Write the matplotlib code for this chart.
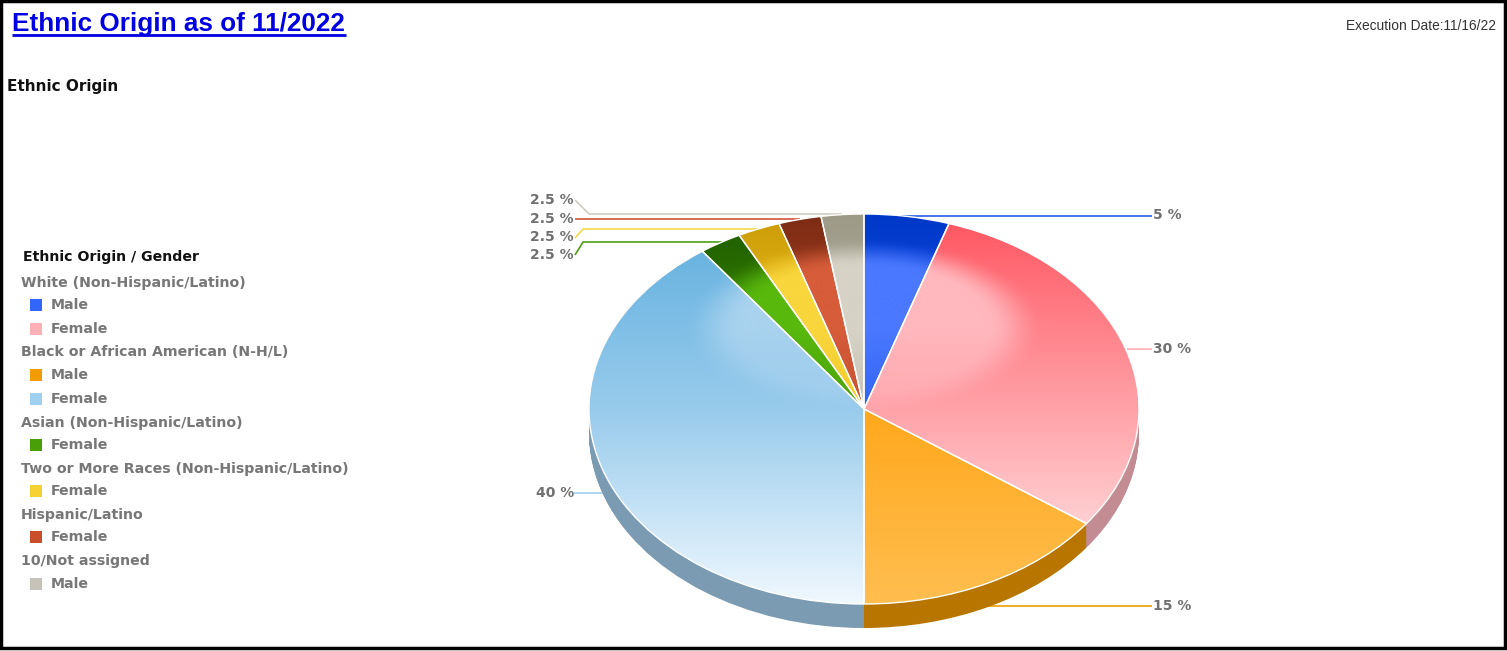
import numpy as np
import matplotlib
matplotlib.use("Agg")
import matplotlib.pyplot as plt
from matplotlib.patches import Rectangle

W, H = 1507, 651
values = [5, 30, 15, 40, 2.5, 2.5, 2.5, 2.5]
top_colors = ["#0038c8", "#ff5560", "#ffa30c", "#5eaede", "#1f5c00", "#cc9c08", "#7c2c14", "#9e9a88"]
mid_colors = ["#1c52f2", "#ffa2a8", "#ffa81c", "#98cbec", "#3f9200", "#f4c81c", "#bf4a28", "#bab6aa"]
low_colors = ["#1c52f2", "#fff0f0", "#ffbe50", "#f0f8fe", "#3f9200", "#f4c81c", "#bf4a28", "#bab6aa"]
glow_colors = ["#4a78ff", "#ffb8be", "#ffa81c", "#a8d2ee", "#58b80c", "#f8d63c", "#d65c3a", "#d6d2c6"]
side_colors = ["#2a4aa0", "#c28c92", "#b87600", "#7a9bb2", "#2a6000", "#a08418", "#802c14", "#8c8a7c"]
line_colors = ["#2a5de8", "#ffb0b4", "#eea000", "#a0d0ec", "#4d9e14", "#f6d84a", "#d0553a", "#cfccc0"]
label_text = [f"{v:g} %" for v in values]

legend_title = "Ethnic Origin / Gender"
legend_groups = ["White (Non-Hispanic/Latino)", "Black or African American (N-H/L)",
                 "Asian (Non-Hispanic/Latino)", "Two or More Races (Non-Hispanic/Latino)",
                 "Hispanic/Latino", "10/Not assigned"]
legend_items = [[("Male", "#3366ff"), ("Female", "#ffb0b6")],
                [("Male", "#f29c00"), ("Female", "#9fd0f0")],
                [("Female", "#4a9e08")],
                [("Female", "#f5d232")],
                [("Female", "#c84e2c")],
                [("Male", "#c6c4b8")]]

cx, cy, rx, ry, depth = 864, 409, 275, 195, 24

fig = plt.figure(figsize=(W / 100, H / 100), dpi=100, facecolor="white")
page = fig.add_axes([0, 0, 1, 1])
page.set_xlim(0, W); page.set_ylim(H, 0); page.axis("off")

# pie axes: unit coordinates map to the ellipse's bounding box, extended for the extrusion
pie = fig.add_axes([(cx - rx) / W, 1 - (cy + ry + depth) / H, 2 * rx / W, (2 * ry + depth) / H])
pie.set_zorder(2)
pie.patch.set_alpha(0)

pie_kw = dict(startangle=90, counterclock=False, radius=1)
dy = depth / ry
for off in np.linspace(dy, 0.005, 25):
    wedges, _ = pie.pie(values, colors=side_colors, center=(0, -off), frame=False, **pie_kw)
    for w in wedges:
        w.set_edgecolor("none")
top_wedges, _ = pie.pie(values, colors=["none"] * len(values), center=(0, 0), frame=False, **pie_kw)

pie.set_aspect("auto")
pie.set_xlim(-1, 1)
pie.set_ylim(-1 - dy, 1)
pie.axis("off")


def rgb(c):
    return np.array(matplotlib.colors.to_rgb(c))


ny, nx = 400, 560
xs = np.linspace(-1, 1, nx)
ys = np.linspace(1, -1, ny)
X, Y = np.meshgrid(xs, ys)
t = (1 - Y) / 2
# glossy cap: dark rim along the top that fades into the body colour
glow_d = np.sqrt((X / 0.6) ** 2 + ((Y - 0.42) / 0.42) ** 2)
glow = np.clip((1.1 - glow_d) / 0.36, 0, 1)
glow = glow * glow * (3 - 2 * glow)
fade = np.clip((0.72 - t) / 0.42, 0, 1)
for i, w in enumerate(top_wedges):
    top, mid, low, gl = map(rgb, (top_colors[i], mid_colors[i], low_colors[i], glow_colors[i]))
    u1 = np.clip(t / 0.5, 0, 1)[..., None]
    u2 = np.clip((t - 0.5) / 0.5, 0, 1)[..., None]
    upper = top * (1 - u1) + mid * u1
    base = np.where(t[..., None] < 0.5, upper, mid * (1 - u2) + low * u2)
    g = (glow * fade)[..., None]
    img = base * (1 - g) + gl * g
    im = pie.imshow(np.clip(img, 0, 1), extent=(-1, 1, -1, 1), aspect="auto", zorder=3,
                    interpolation="bilinear")
    w.set_facecolor("none")
    w.set_edgecolor("#ffffff")
    w.set_linewidth(1.0)
    w.set_zorder(4)
    im.set_clip_path(w)
pie.set_xlim(-1, 1)
pie.set_ylim(-1 - dy, 1)
pie.set_aspect("auto")

# leader lines and value labels, all in page pixels
leaders = [
    ([864, 1152], [216, 216], (1153, 215), "left"),
    ([1127, 1152], [349, 349], (1153, 349), "left"),
    ([985, 1152], [606, 606], (1153, 606), "left"),
    ([574, 604], [493, 493], (574, 493), "right"),
    ([575, 583, 590, 740], [255, 242, 242, 242], (574, 255), "right"),
    ([575, 583, 590, 770], [238, 229, 229, 229], (574, 237), "right"),
    ([575, 800], [219, 219], (574, 219), "right"),
    ([575, 589, 842], [200, 214, 214], (574, 200), "right"),
]
for i in range(len(values)):
    xl, yl, (tx, ty), ha = leaders[i]
    page.plot(xl, yl, color=line_colors[i], lw=1.2, solid_capstyle="butt", zorder=1)
    page.text(tx, ty, label_text[i], ha=ha, va="center", fontsize=10, fontweight="bold",
              family="DejaVu Sans", color="#707070")

# headings
page.text(12, 24.5, "Ethnic Origin as of 11/2022", fontsize=18.85, fontweight="bold",
          family="Liberation Sans", color="#0000e0", va="center", ha="left")
page.plot([12, 346], [34.5, 34.5], color="#0000e0", lw=2, solid_capstyle="butt")
page.text(1496, 26.5, "Execution Date:11/16/22", fontsize=9.9, family="Liberation Sans",
          color="#333333", ha="right", va="center")
page.text(7, 87, "Ethnic Origin", fontsize=10.95, fontweight="bold", family="DejaVu Sans",
          color="#111111", va="center")

# legend
page.text(23, 257.5, legend_title, fontsize=10.2, fontweight="bold", family="DejaVu Sans",
          color="#111111", va="center")
group_y = [282.5, 352.5, 422.5, 468.5, 514.5, 561.5]
item_y = [[305, 329], [375, 399], [445], [491], [537], [584]]
for g, gy, items, iy in zip(legend_groups, group_y, legend_items, item_y):
    page.text(21, gy, g, fontsize=10.2, fontweight="bold", family="DejaVu Sans",
              color="#777777", va="center")
    for (lab, col), y in zip(items, iy):
        page.add_patch(Rectangle((30, y - 6), 12, 12, facecolor=col, edgecolor="none"))
        page.text(51, y, lab, fontsize=10.2, fontweight="bold", family="DejaVu Sans",
                  color="#777777", va="center")

# outer frame
page.add_patch(Rectangle((1.25, 1.25), W - 2.5 - 1, H - 4.5, fill=False, edgecolor="black", lw=2.5))
page.set_xlim(0, W); page.set_ylim(H, 0)

fig.savefig("out.png", dpi=100, facecolor="white")
